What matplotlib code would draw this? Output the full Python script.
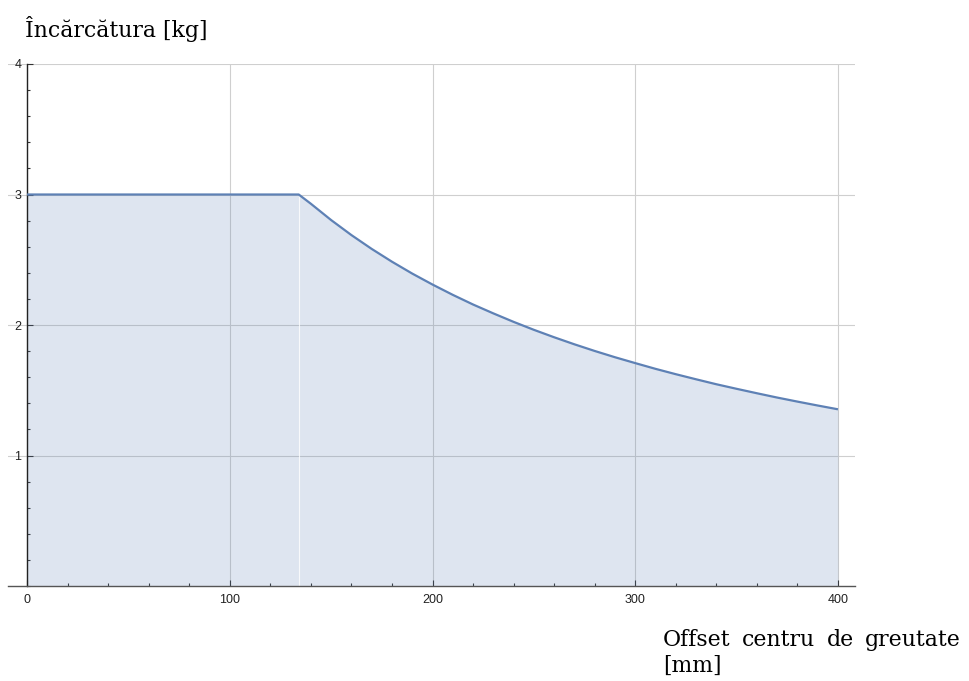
import matplotlib
matplotlib.use("Agg")
import matplotlib.pyplot as plt
from matplotlib.ticker import MultipleLocator

# Data
offset_mm = [0, 134, 140, 150, 160, 170, 180, 190, 200, 210, 220, 230, 240, 250,
             260, 270, 280, 290, 300, 310, 320, 330, 340, 350, 360, 370, 380, 390, 400]
load_kg = [3.0, 3.0, 2.929, 2.804, 2.689, 2.583, 2.485, 2.394, 2.310, 2.231, 2.157,
           2.089, 2.024, 1.963, 1.906, 1.852, 1.801, 1.753, 1.708, 1.664, 1.623,
           1.584, 1.546, 1.511, 1.477, 1.444, 1.413, 1.383, 1.354]
x_ticks = [0, 100, 200, 300, 400]
y_ticks = [1, 2, 3, 4]
x_label_words = ["Offset", "centru", "de", "greutate"]
x_label_line2 = "[mm]"
y_label = "Încărcătura [kg]"

line_color = "#5E81B5"
serif = ["DejaVu Serif", "Liberation Serif"]
label_size = 15.8

fig = plt.figure(figsize=(9.69, 6.81), dpi=100)
W, H = 969, 681
ax = fig.add_axes([8 / W, 1 - 586 / H, (855 - 8) / W, (586 - 64) / H])

ax.fill_between(offset_mm, load_kg, 0, color=line_color, alpha=0.2, linewidth=0, zorder=1)
# thin light seam at the kink, as in the reference
ax.plot([offset_mm[1], offset_mm[1]], [0, load_kg[1]], color="white", lw=0.8, alpha=0.8, zorder=1.5)
ax.plot(offset_mm, load_kg, color=line_color, lw=1.6, zorder=3, solid_capstyle="butt")

ax.set_xlim(-9.4, 408.4)
ax.set_ylim(0, 4.0)

for s in ["top", "right"]:
    ax.spines[s].set_visible(False)
ax.spines["left"].set_position(("data", 0))
ax.spines["left"].set_color("#222222")
ax.spines["left"].set_linewidth(1.0)
ax.spines["bottom"].set_color("#555555")
ax.spines["bottom"].set_linewidth(1.0)

ax.set_xticks(x_ticks)
ax.set_yticks(y_ticks)
ax.xaxis.set_minor_locator(MultipleLocator(20))
ax.yaxis.set_minor_locator(MultipleLocator(0.2))
ax.tick_params(axis="both", which="major", direction="in", length=4.5, width=0.8,
               labelsize=9, color="#333333", labelcolor="#222222")
ax.tick_params(axis="both", which="minor", direction="in", length=2.5, width=0.8, color="#333333")
ax.tick_params(axis="x", pad=5.5)
ax.tick_params(axis="y", pad=4)
for lab in ax.get_xticklabels() + ax.get_yticklabels():
    lab.set_family(["Liberation Sans", "DejaVu Sans"])

ax.grid(True, which="major", color="#cfcfcf", lw=0.8, zorder=0)
ax.set_axisbelow(True)

fig.text(25 / W, 1 - 37 / H, y_label, family=serif, fontsize=label_size,
         va="baseline", ha="left")

# x label: first line justified between left and right edges, as in the reference
renderer = fig.canvas.get_renderer()
x_left, x_right = 663, 961
texts = [fig.text(0, 1 - 646 / H, w, family=serif, fontsize=label_size,
                  va="baseline", ha="left") for w in x_label_words]
widths = [t.get_window_extent(renderer).width for t in texts]
gap = (x_right - x_left - sum(widths)) / (len(texts) - 1)
pos = x_left
for t, w in zip(texts, widths):
    t.set_x(pos / W)
    pos += w + gap
fig.text(x_left / W, 1 - 672 / H, x_label_line2, family=serif, fontsize=label_size,
         va="baseline", ha="left")

fig.savefig("out.png", dpi=100)
